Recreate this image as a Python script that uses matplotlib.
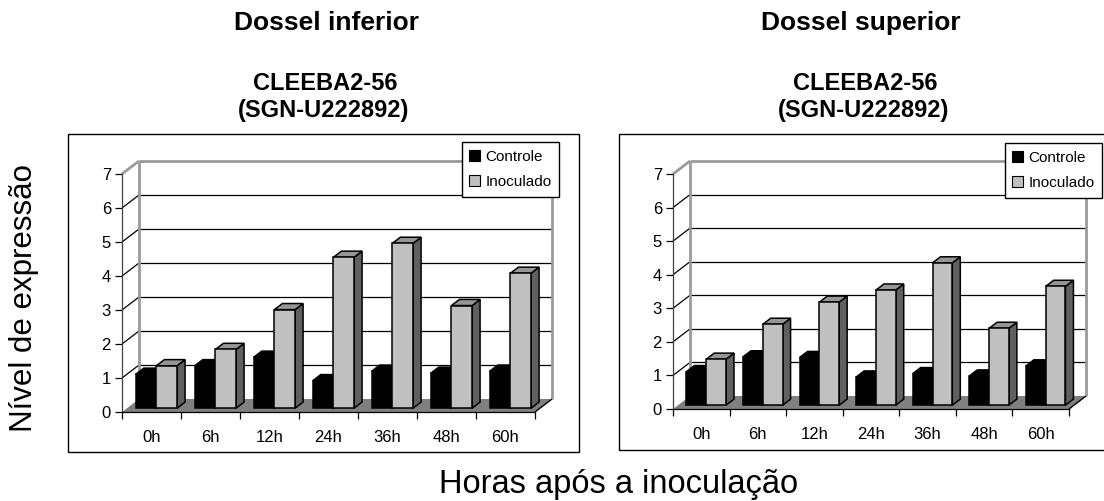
import numpy as np
import matplotlib.pyplot as plt
from matplotlib.patches import Polygon, Patch, Rectangle

plt.rcParams['font.family'] = ['Liberation Sans', 'DejaVu Sans']

horas = ['0h', '6h', '12h', '24h', '36h', '48h', '60h']

# Dossel inferior
controle_inf = [1.00, 1.25, 1.50, 0.81, 1.09, 1.03, 1.09]
inoculado_inf = [1.25, 1.73, 2.90, 4.44, 4.85, 3.02, 3.97]

# Dossel superior
controle_sup = [1.00, 1.44, 1.42, 0.84, 0.94, 0.87, 1.17]
inoculado_sup = [1.37, 2.41, 3.07, 3.43, 4.24, 2.29, 3.54]

W, H = 1104, 501
fig = plt.figure(figsize=(W / 100, H / 100), dpi=100)


def eixo_px(x0, y0, x1, y1):
    # eixos posicionados em pixels (origem no canto superior esquerdo)
    return fig.add_axes([x0 / W, 1 - y1 / H, (x1 - x0) / W, (y1 - y0) / H])


def caixa_px(x0, y0, x1, y1):
    fig.add_artist(Rectangle((x0 / W, 1 - y1 / H), (x1 - x0) / W, (y1 - y0) / H,
                             transform=fig.transFigure, fill=False,
                             ec='black', lw=1))


def painel(ax, ctrl, inoc, prof=(17, 13)):
    n = len(horas)
    ymax = 7
    ax.set_xlim(0, n)
    ax.set_ylim(0, ymax)
    ax.patch.set_alpha(0)

    # profundidade do "3D" convertida de pixels para unidades de dados
    bb = ax.get_position()
    ddx = prof[0] * n / (bb.width * W)
    ddy = prof[1] * ymax / (bb.height * H)

    def p(x, y, d):
        return (x + d * ddx, y + d * ddy)

    def linha(a, b, **kw):
        ax.plot([a[0], b[0]], [a[1], b[1]], clip_on=False, solid_capstyle='butt', **kw)

    # piso
    ax.add_patch(Polygon([p(0, 0, 0), p(n, 0, 0), p(n, 0, 1), p(0, 0, 1)],
                         closed=True, fc='#808080', ec='none', clip_on=False, zorder=1))
    linha(p(n, 0, 0), p(n, 0, 1), color='black', lw=1, zorder=1.5)

    # linhas de grade na parede do fundo e na parede lateral
    for k in range(1, ymax):
        linha(p(0, k, 1), p(n, k, 1), color='black', lw=0.9, zorder=1.2)
        linha(p(0, k, 0), p(0, k, 1), color='black', lw=0.9, zorder=1.2)

    # bordas cinzas das paredes
    cinza = '#9a9a9a'
    linha(p(0, 0, 1), p(0, ymax, 1), color=cinza, lw=2, zorder=1.3)
    linha(p(0, ymax, 1), p(n, ymax, 1), color=cinza, lw=2, zorder=1.3)
    linha(p(n, 0, 1), p(n, ymax, 1), color=cinza, lw=2, zorder=1.3)
    linha(p(0, ymax, 0), p(0, ymax, 1), color=cinza, lw=2, zorder=1.3)

    # colunas
    d0, d1 = 0.29, 0.76
    for i in range(n):
        series = [(i + 0.15, i + 0.5, ctrl[i], 'black', 'black', 'black'),
                  (i + 0.5, i + 0.85, inoc[i], '#c0c0c0', '#969696', '#606060')]
        for x0, x1, v, c_frente, c_topo, c_lado in series:
            lado = [p(x1, 0, d0), p(x1, v, d0), p(x1, v, d1), p(x1, 0, d1)]
            topo = [p(x0, v, d0), p(x1, v, d0), p(x1, v, d1), p(x0, v, d1)]
            frente = [p(x0, 0, d0), p(x1, 0, d0), p(x1, v, d0), p(x0, v, d0)]
            for pts, c in [(lado, c_lado), (topo, c_topo), (frente, c_frente)]:
                ax.add_patch(Polygon(pts, closed=True, fc=c, ec='black', lw=1.1,
                                     joinstyle='miter', clip_on=False, zorder=3))

    # eixos
    for s in ['top', 'right']:
        ax.spines[s].set_visible(False)
    ax.spines['left'].set_color('#404040')
    ax.spines['left'].set_linewidth(0.9)
    ax.spines['bottom'].set_linewidth(0.9)
    ax.set_yticks(range(0, ymax + 1))
    ax.set_xticks(np.arange(n) + 0.5, horas)
    ax.set_xticks(np.arange(n + 1), minor=True)
    ax.tick_params(axis='y', length=5, width=0.9, pad=3, labelsize=12)
    ax.tick_params(axis='x', which='major', length=0, pad=13, labelsize=12)
    ax.tick_params(axis='x', which='minor', length=5, width=0.9)

    leg_handles = [Patch(fc='black', ec='black', lw=0.8),
                   Patch(fc='#c0c0c0', ec='black', lw=0.8)]
    return leg_handles


def legenda(ax, handles, x1, y0):
    leg = ax.legend(handles, ['Controle', 'Inoculado'], loc='upper right',
                    bbox_to_anchor=(x1 / W, 1 - y0 / H), bbox_transform=fig.transFigure,
                    fancybox=False, edgecolor='black', framealpha=1, fontsize=11,
                    handlelength=0.7, handleheight=0.7, handletextpad=0.35,
                    borderpad=0.5, labelspacing=0.75, borderaxespad=0)
    leg.get_frame().set_linewidth(1)
    leg.set_zorder(10)


# caixas externas
caixa_px(68, 134, 579, 452)
caixa_px(619, 134, 1110, 450)

ax1 = eixo_px(122, 174, 535, 412)
h = painel(ax1, controle_inf, inoculado_inf)
legenda(ax1, h, 559, 142)

ax2 = eixo_px(673, 174, 1069, 409)
h = painel(ax2, controle_sup, inoculado_sup)
legenda(ax2, h, 1102, 143)

# titulos
fig.text(326 / W, 1 - 23 / H, 'Dossel inferior', fontsize=19, fontweight='bold',
         ha='center', va='center')
fig.text(325 / W, 1 - 84 / H, 'CLEEBA2-56', fontsize=17, fontweight='bold',
         ha='center', va='center')
fig.text(324 / W, 1 - 110 / H, '(SGN-U222892)', fontsize=17, fontweight='bold',
         ha='center', va='center')

fig.text(861 / W, 1 - 23 / H, 'Dossel superior', fontsize=19, fontweight='bold',
         ha='center', va='center')
fig.text(865 / W, 1 - 84 / H, 'CLEEBA2-56', fontsize=17, fontweight='bold',
         ha='center', va='center')
fig.text(864 / W, 1 - 110 / H, '(SGN-U222892)', fontsize=17, fontweight='bold',
         ha='center', va='center')

fig.text(24 / W, 1 - 298 / H, 'Nível de expressão', fontsize=22.5, rotation=90,
         ha='center', va='center')
fig.text(619 / W, 1 - 484 / H, 'Horas após a inoculação', fontsize=23.5,
         ha='center', va='center')

fig.savefig('out.png', dpi=100)
